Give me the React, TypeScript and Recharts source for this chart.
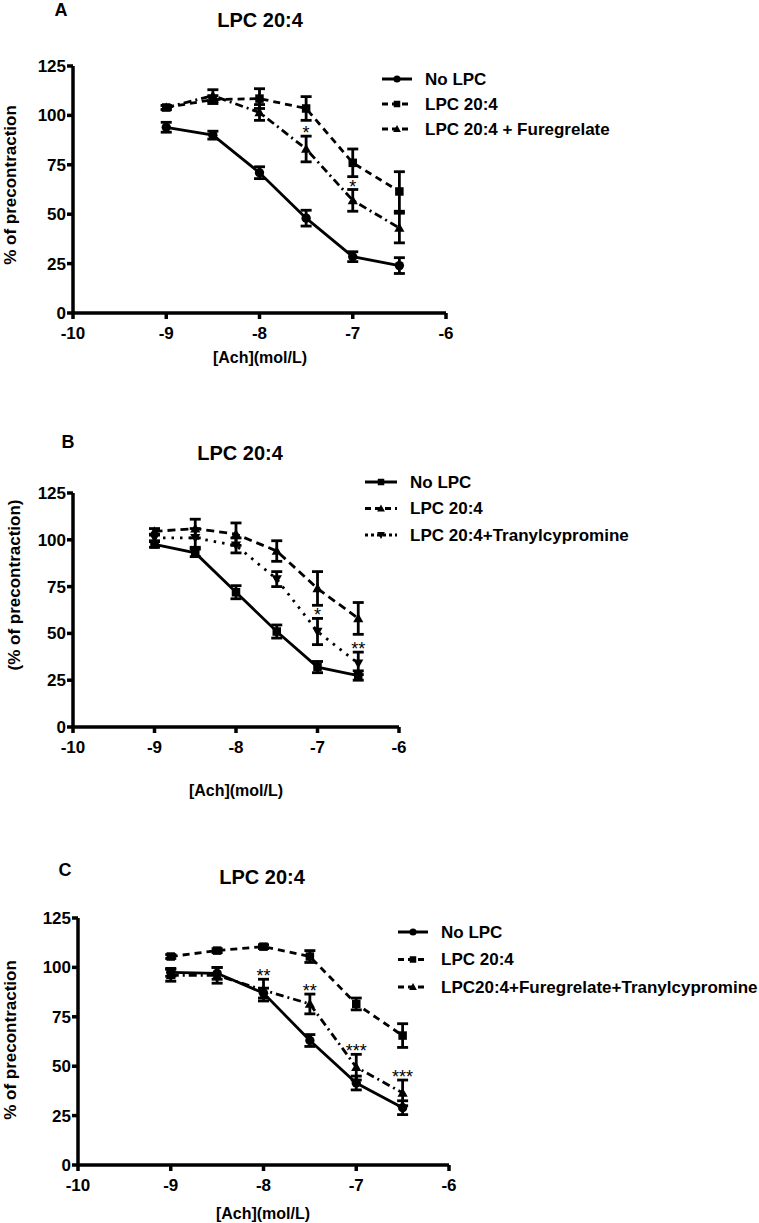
import { LineChart, Line, XAxis, YAxis, ErrorBar, Legend, ReferenceDot } from 'recharts';

const doses = [-9, -8.5, -8, -7.5, -7, -6.5];
const xTicks = [-10, -9, -8, -7, -6];
const yTicks = [0, 25, 50, 75, 100, 125];

// Panel A
const aNames = ['No LPC', 'LPC 20:4', 'LPC 20:4 + Furegrelate'];
const aNoLpc = [94, 90, 71, 48, 28.5, 24];
const aNoLpcErr = [2.5, 2, 3, 4, 2.5, 4];
const aLpc = [104, 108, 108.5, 103.5, 76, 61.5];
const aLpcErr = [1, 2, 5, 6, 7, 10];
const aFure = [104, 110, 101.5, 83, 57, 43];
const aFureErr = [1, 3, 4, 6.5, 5.5, 7.5];
const aSig = ['', '', '', '*', '*', ''];

// Panel B
const bNames = ['No LPC', 'LPC 20:4', 'LPC 20:4+Tranylcypromine'];
const bNoLpc = [97.5, 93, 72, 51, 32, 27.5];
const bNoLpcErr = [1.5, 2, 3.5, 3.5, 3, 2.5];
const bLpc = [104.5, 106, 103, 94, 74, 58];
const bLpcErr = [1.5, 5, 6, 5.5, 9, 8.5];
const bTran = [101, 101, 97, 79, 51, 34];
const bTranErr = [1.5, 5, 4, 4, 7, 6];
const bSig = ['', '', '', '', '*', '**'];

// Panel C
const cNames = ['No LPC', 'LPC 20:4', 'LPC20:4+Furegrelate+Tranylcypromine'];
const cNoLpc = [97.5, 97, 87, 63, 41.5, 29];
const cNoLpcErr = [2, 3, 2.5, 3, 3.5, 3.5];
const cLpc = [105.5, 108.5, 110.5, 105.5, 81.5, 65.5];
const cLpcErr = [1, 1, 1, 3, 3, 6];
const cFt = [96, 96, 88.5, 81.5, 49.5, 36.5];
const cFtErr = [3, 4, 5.5, 5, 6.5, 6.5];
const cSig = ['', '', '**', '**', '***', '***'];

type Shape = 'circle' | 'square' | 'up' | 'down';

function marker(shape: Shape, cx: number, cy: number, s: number, key?: any) {
  if (shape === 'circle') return <circle key={key} cx={cx} cy={cy} r={s * 0.55} fill="#000" />;
  if (shape === 'square') return <rect key={key} x={cx - s / 2} y={cy - s / 2} width={s} height={s} fill="#000" />;
  if (shape === 'up')
    return <polygon key={key} points={`${cx},${cy - s * 0.6} ${cx - s * 0.6},${cy + s * 0.45} ${cx + s * 0.6},${cy + s * 0.45}`} fill="#000" />;
  return <polygon key={key} points={`${cx},${cy + s * 0.6} ${cx - s * 0.6},${cy - s * 0.45} ${cx + s * 0.6},${cy - s * 0.45}`} fill="#000" />;
}

const dotFn = (shape: Shape) => (props: any) => {
  const { cx, cy, index } = props;
  if (cx == null || cy == null) return <g key={index} />;
  return marker(shape, cx, cy, 8.5, index);
};

interface SeriesStyle { dash?: string; legendDash?: string; shape: Shape }

interface Panel {
  top: number;
  height: number;
  letter: string;
  letterPos: [number, number];
  titlePos: [number, number];
  plotLeft: number;
  plotRight: number;
  plotTop: number;
  plotBottom: number;
  yLabel: string;
  yLabelPos: [number, number];
  xLabelPos: [number, number];
  legendPos: [number, number];
  legendGap: number;
  legendLine: number;
  names: string[];
  values: number[][];
  errors: number[][];
  sig: string[];
  styles: SeriesStyle[];
}

const panels: Panel[] = [
  {
    top: 0, height: 380, letter: 'A', letterPos: [61, 10], titlePos: [260, 20],
    plotLeft: 73, plotRight: 446, plotTop: 66, plotBottom: 313,
    yLabel: '% of precontraction', yLabelPos: [10, 185], xLabelPos: [260, 357],
    legendPos: [382, 68], legendGap: 25, legendLine: 30,
    names: aNames, values: [aNoLpc, aLpc, aFure], errors: [aNoLpcErr, aLpcErr, aFureErr], sig: aSig,
    styles: [
      { shape: 'circle' },
      { shape: 'square', dash: '7 5', legendDash: '6 4' },
      { shape: 'up', dash: '8 4 2 4', legendDash: '6 4' },
    ],
  },
  {
    top: 380, height: 430, letter: 'B', letterPos: [68, 62], titlePos: [240, 73],
    plotLeft: 73, plotRight: 399, plotTop: 113, plotBottom: 347,
    yLabel: '(% of precontraction)', yLabelPos: [14, 205], xLabelPos: [236, 410],
    legendPos: [365, 91], legendGap: 26.5, legendLine: 32,
    names: bNames, values: [bNoLpc, bLpc, bTran], errors: [bNoLpcErr, bLpcErr, bTranErr], sig: bSig,
    styles: [
      { shape: 'square' },
      { shape: 'up', dash: '8 5', legendDash: '6 4' },
      { shape: 'down', dash: '2.5 6', legendDash: '3 3' },
    ],
  },
  {
    top: 810, height: 413, letter: 'C', letterPos: [65, 60], titlePos: [262, 67],
    plotLeft: 78, plotRight: 449, plotTop: 108, plotBottom: 355,
    yLabel: '% of precontraction', yLabelPos: [10, 230], xLabelPos: [263, 403],
    legendPos: [398, 111], legendGap: 27.5, legendLine: 30,
    names: cNames, values: [cNoLpc, cLpc, cFt], errors: [cNoLpcErr, cLpcErr, cFtErr], sig: cSig,
    styles: [
      { shape: 'circle' },
      { shape: 'square', dash: '7 5', legendDash: '6 4' },
      { shape: 'up', dash: '8 4 2 4', legendDash: '6 4' },
    ],
  },
];

const textStyle = { fill: '#000', fontSize: 17, fontWeight: 'bold' as const };

function PanelLegend({ p }: { p: Panel }) {
  const h = 22 + p.legendGap * 2;
  return (
    <svg width={380} height={h} style={{ display: 'block', overflow: 'visible' }}>
      {p.names.map((name, i) => {
        const y = 11 + i * p.legendGap;
        const st = p.styles[i];
        return (
          <g key={name}>
            <line x1={0} y1={y} x2={p.legendLine} y2={y} stroke="#000" strokeWidth={3} strokeDasharray={st.legendDash} />
            {marker(st.shape, p.legendLine / 2, y, 6.5)}
            <text x={p.legendLine + 13} y={y} dominantBaseline="central" {...textStyle}>{name}</text>
          </g>
        );
      })}
    </svg>
  );
}

const sigLabel = (s: string) => (props: any) => {
  const vb = props.viewBox || {};
  const x = vb.x + (vb.width || 0) / 2;
  const y = vb.y + 3;
  return (
    <text x={x} y={y} textAnchor="middle" fill="#000" fontSize={18}>
      {s}
    </text>
  );
};

function PanelChart({ p }: { p: Panel }) {
  const rows = doses.map((x, i) => {
    const r: any = { x };
    p.values.forEach((v, k) => {
      r[`s${k}`] = v[i];
      r[`e${k}`] = p.errors[k][i];
    });
    return r;
  });
  const last = p.values.length - 1;
  return (
    <div style={{ position: 'absolute', left: 0, top: p.top, width: 759, height: p.height }}>
      <div style={{ position: 'absolute', left: p.letterPos[0], top: p.letterPos[1], transform: 'translate(-50%, -50%)', fontWeight: 'bold', fontSize: 18 }}>{p.letter}</div>
      <div style={{ position: 'absolute', left: p.titlePos[0], top: p.titlePos[1], transform: 'translate(-50%, -50%)', fontWeight: 'bold', fontSize: 20, whiteSpace: 'nowrap' }}>LPC 20:4</div>
      <LineChart
        width={759}
        height={p.height}
        data={rows}
        margin={{ top: p.plotTop, right: 759 - p.plotRight, bottom: 0, left: 0 }}
      >
        <XAxis
          type="number"
          dataKey="x"
          domain={[-10, -6]}
          ticks={xTicks}
          height={p.height - p.plotBottom}
          axisLine={{ stroke: '#000', strokeWidth: 3.5 }}
          tickLine={{ stroke: '#000', strokeWidth: 3.5 }}
          tickSize={6}
          tickMargin={8}
          tick={textStyle}
          label={{
            content: () => (
              <text x={p.xLabelPos[0]} y={p.xLabelPos[1]} textAnchor="middle" dominantBaseline="central" {...textStyle} fontSize={16}>
                [Ach](mol/L)
              </text>
            ),
          }}
        />
        <YAxis
          type="number"
          domain={[0, 125]}
          ticks={yTicks}
          width={p.plotLeft}
          axisLine={{ stroke: '#000', strokeWidth: 3.5 }}
          tickLine={{ stroke: '#000', strokeWidth: 3.5 }}
          tickSize={6}
          tickMargin={1}
          tick={textStyle}
          label={{
            content: () => (
              <text
                x={p.yLabelPos[0]}
                y={p.yLabelPos[1]}
                transform={`rotate(-90 ${p.yLabelPos[0]} ${p.yLabelPos[1]})`}
                textAnchor="middle"
                dominantBaseline="central"
                {...textStyle}
              >
                {p.yLabel}
              </text>
            ),
          }}
        />
        {p.values.map((_, k) => (
          <Line
            key={k}
            type="linear"
            dataKey={`s${k}`}
            stroke="#000"
            strokeWidth={2.8}
            strokeDasharray={p.styles[k].dash}
            dot={dotFn(p.styles[k].shape)}
            activeDot={false}
            isAnimationActive={false}
          >
            <ErrorBar dataKey={`e${k}`} width={5.5} strokeWidth={2.8} stroke="#000" direction="y" isAnimationActive={false} />
          </Line>
        ))}
        {p.sig.map((s, i) =>
          s ? (
            <ReferenceDot
              key={`sig${i}`}
              x={doses[i]}
              y={p.values[last][i] + p.errors[last][i]}
              r={0}
              fill="none"
              stroke="none"
              label={{ content: sigLabel(s) }}
            />
          ) : null,
        )}
        <Legend
          layout="vertical"
          align="center"
          verticalAlign="middle"
          wrapperStyle={{ left: p.legendPos[0], top: p.legendPos[1], width: 380 }}
          content={() => <PanelLegend p={p} />}
        />
      </LineChart>
    </div>
  );
}

export default function App() {
  return (
    <div style={{ position: 'absolute', left: 0, top: 0, width: 759, height: 1223, background: '#fff', fontFamily: '"Liberation Sans", Arial, sans-serif', color: '#000' }}>
      {panels.map((p) => (
        <PanelChart key={p.letter} p={p} />
      ))}
    </div>
  );
}
